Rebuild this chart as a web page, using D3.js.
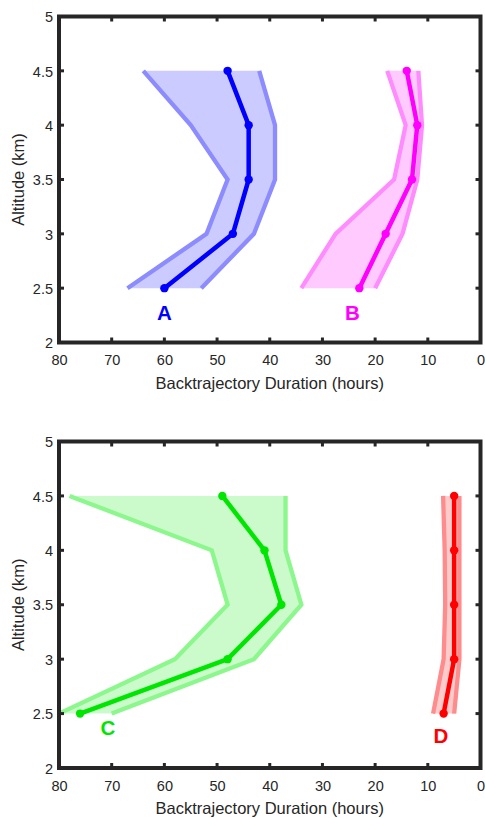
<!DOCTYPE html>
<html><head><meta charset="utf-8">
<script src="https://cdn.jsdelivr.net/npm/d3@7"></script>
<style>body{margin:0;background:#fff}svg{display:block}</style>
</head><body>
<svg id="c" width="485" height="818"></svg>
<script>
const altitudes = [2.5, 3.0, 3.5, 4.0, 4.5];
const xTicks = [80, 70, 60, 50, 40, 30, 20, 10, 0];
const yTicks = [2, 2.5, 3, 3.5, 4, 4.5, 5];

const A_mid  = [60, 47, 44, 44, 48];
const A_high = [67, 52, 48, 55, 64];
const A_low  = [53, 43, 39, 39, 42];

const B_mid  = [23, 18, 13, 12, 14];
const B_high = [34, 27.5, 16.4, 14.2, 17.7];
const B_low  = [20, 14.8, 12, 11.1, 11.8];

const C_mid  = [76, 48, 37.8, 41, 49];
const C_high = [80, 58, 48, 51, 78];
const C_low  = [70, 43, 34, 37, 37];

const D_mid  = [7, 5, 5, 5, 5];
const D_high = [9, 7, 6.7, 6.8, 7.1];
const D_low  = [5, 4, 4, 4, 4];

const seriesTop = [
  {label:"A", mid:A_mid, high:A_high, low:A_low, line:"#0000ff", band:"#8c8cff", fill:"#cbcbff", lx:60, ly:2.28},
  {label:"B", mid:B_mid, high:B_high, low:B_low, line:"#ff00ff", band:"#ff8cff", fill:"#ffcbff", lx:24.3, ly:2.28}
];
const seriesBot = [
  {label:"C", mid:C_mid, high:C_high, low:C_low, line:"#00e600", band:"#8cf78c", fill:"#cbfbcb", lx:70.7, ly:2.37},
  {label:"D", mid:D_mid, high:D_high, low:D_low, line:"#ff0000", band:"#ff8c8c", fill:"#ffcbcb", lx:7.5, ly:2.3}
];

const svg = d3.select("#c");
const font = "'Liberation Sans', Arial, Helvetica, sans-serif";
const ink = "#262626";

function panel(top, bottom, series) {
  const x0 = 59, x1 = 480.5, y0 = top, y1 = bottom;
  const x = d3.scaleLinear().domain([80, 0]).range([x0, x1]);
  const y = d3.scaleLinear().domain([2, 5]).range([y1, y0]);
  const g = svg.append("g");
  const clipId = "clip" + Math.round(top);
  g.append("clipPath").attr("id", clipId).append("rect")
    .attr("x", x0).attr("y", y0).attr("width", x1 - x0).attr("height", y1 - y0);
  const pg = g.append("g").attr("clip-path", `url(#${clipId})`);

  series.forEach(s => {
    pg.append("path").datum(altitudes).attr("d", d3.area()
        .y(d=>y(d)).x0((d,i)=>x(s.high[i])).x1((d,i)=>x(s.low[i])))
      .attr("fill", s.fill).attr("stroke", "none");
    [s.high, s.low].forEach(arr => {
      pg.append("path").datum(altitudes)
        .attr("d", d3.line().x((d,i)=>x(arr[i])).y(d=>y(d)))
        .attr("fill","none").attr("stroke", s.band).attr("stroke-width", 4.3);
    });
    pg.append("path").datum(altitudes)
      .attr("d", d3.line().x((d,i)=>x(s.mid[i])).y(d=>y(d)))
      .attr("fill","none").attr("stroke", s.line).attr("stroke-width", 4.5)
      .attr("stroke-linejoin","round");
    pg.selectAll(null).data(altitudes).enter().append("circle")
      .attr("cx",(d,i)=>x(s.mid[i])).attr("cy",d=>y(d)).attr("r",4.2)
      .attr("fill", s.line);
    g.append("text").attr("x", x(s.lx)).attr("y", y(s.ly)).attr("text-anchor","middle")
      .attr("dominant-baseline","central")
      .attr("font-family", font).attr("font-weight","bold").attr("font-size", 20.5)
      .attr("fill", s.line).text(s.label);
  });

  // frame and ticks
  const tl = 5;
  const tk = g.append("g").attr("stroke",ink).attr("stroke-width",3);
  xTicks.forEach(t => {
    tk.append("line").attr("x1",x(t)).attr("x2",x(t)).attr("y1",y1).attr("y2",y1-tl);
    tk.append("line").attr("x1",x(t)).attr("x2",x(t)).attr("y1",y0).attr("y2",y0+tl);
  });
  yTicks.forEach(t => {
    tk.append("line").attr("y1",y(t)).attr("y2",y(t)).attr("x1",x0).attr("x2",x0+tl);
    tk.append("line").attr("y1",y(t)).attr("y2",y(t)).attr("x1",x1).attr("x2",x1-tl);
  });
  g.append("rect").attr("x",x0).attr("y",y0).attr("width",x1-x0).attr("height",y1-y0)
    .attr("fill","none").attr("stroke",ink).attr("stroke-width",4);

  const xa = g.append("g").attr("transform",`translate(0,${y1+22.5})`)
    .call(d3.axisBottom(x).tickValues(xTicks).tickSize(0).tickFormat(d3.format("d")));
  xa.select(".domain").remove();
  xa.selectAll("text").attr("y",0).attr("dy",0)
    .attr("font-family",font).attr("font-size",14.5).attr("fill",ink);
  const ya = g.append("g").attr("transform",`translate(${x0-3},0)`)
    .call(d3.axisLeft(y).tickValues(yTicks).tickSize(0).tickFormat(d=>String(d)));
  ya.select(".domain").remove();
  ya.selectAll("text").attr("dy","0.36em").attr("font-family",font).attr("font-size",14.5).attr("fill",ink);

  g.append("text").attr("x",(x0+x1)/2).attr("y",y1+46).attr("text-anchor","middle")
    .attr("font-family",font).attr("font-size",16.5).attr("fill",ink)
    .text("Backtrajectory Duration (hours)");
  g.append("text").attr("transform",`translate(24,${(y0+y1)/2}) rotate(-90)`)
    .attr("text-anchor","middle").attr("font-family",font).attr("font-size",16.5).attr("fill",ink)
    .text("Altitude (km)");
}

panel(16.5, 342.5, seriesTop);
panel(441.5, 768, seriesBot);
</script>
</body></html>
